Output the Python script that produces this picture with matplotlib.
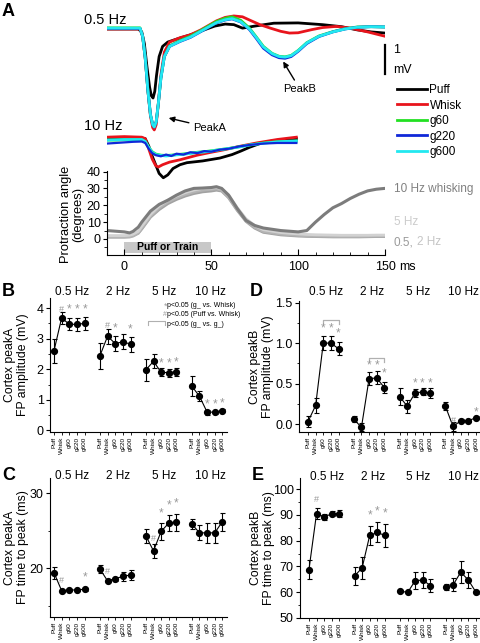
import matplotlib.pyplot as plt
import numpy as np
from matplotlib.patches import Rectangle
from matplotlib.ticker import MultipleLocator

plt.rcParams['font.family'] = ['Liberation Sans', 'DejaVu Sans']

W, H = 480, 643

# ---------------- data ----------------
conds = ['Puff', 'Whisk', 'g60', 'g220', 'g600']
freqs = ['0.5 Hz', '2 Hz', '5 Hz', '10 Hz']

# A: field potential traces (ms, mV)
t_blk05 = [-10, 0, 8, 10, 11.5, 13, 14.5, 15.5, 16.5, 17.5, 18.5, 20, 22, 25, 30, 38, 45, 52, 58, 63, 68,
           75, 86, 100, 114, 125, 134, 142, 150]
v_blk05 = [0, 0, 0, -0.1, -0.5, -1.3, -2.0, -2.3, -2.38, -2.15, -1.6, -0.95, -0.6, -0.45, -0.35, -0.2, -0.05,
           0.1, 0.17, 0.15, 0.03, 0.1, 0.2, 0.21, 0.15, 0.08, -0.03, -0.1, -0.14]
t_red05 = [-10, 0, 9, 10.5, 12, 13.5, 15, 16.3, 17.2, 18.3, 19.5, 21, 23, 26, 32, 38, 44, 53, 58, 63, 68, 72,
           78, 84, 90, 95, 100, 108, 114, 122, 130, 140, 150]
v_red05 = [0, 0, 0, -0.25, -1.0, -2.1, -3.0, -3.4, -3.48, -3.3, -2.6, -1.6, -0.8, -0.45, -0.3, -0.2, -0.03,
           0.28, 0.4, 0.45, 0.42, 0.31, 0.15, 0.03, -0.08, -0.14, -0.13, -0.02, 0.05, 0.09, 0.03, -0.1, -0.25]
t_g05 = [-10, 0, 9, 10.5, 12, 13.5, 15, 16.3, 17.2, 18.3, 19.5, 21, 23, 26, 32, 38, 44, 53, 58, 62, 67, 72,
         76, 80, 85, 89, 92.5, 96, 100, 105, 112, 120, 127, 134, 142, 150]
v_g60_05 = [0.04, 0.04, 0.04, -0.25, -1.0, -2.1, -2.95, -3.3, -3.36, -3.2, -2.6, -1.7, -0.95, -0.58, -0.4,
            -0.25, -0.05, 0.26, 0.37, 0.42, 0.3, 0.03, -0.28, -0.6, -0.84, -0.94, -0.96, -0.91, -0.74, -0.47,
            -0.24, -0.09, 0.01, 0.07, 0.08, 0.07]
v_g220_05 = [0.02, 0.02, 0.02, -0.25, -1.0, -2.1, -2.95, -3.3, -3.38, -3.2, -2.6, -1.7, -0.95, -0.6, -0.43,
             -0.29, -0.09, 0.21, 0.31, 0.35, 0.24, -0.02, -0.33, -0.66, -0.89, -0.99, -1.01, -0.95, -0.77,
             -0.5, -0.26, -0.1, 0.0, 0.06, 0.08, 0.07]
v_g600_05 = [0.03, 0.03, 0.03, -0.25, -1.0, -2.1, -2.95, -3.3, -3.38, -3.2, -2.6, -1.7, -0.95, -0.6, -0.42,
             -0.28, -0.08, 0.22, 0.32, 0.36, 0.25, 0.0, -0.3, -0.62, -0.85, -0.95, -0.97, -0.92, -0.75, -0.48,
             -0.25, -0.1, 0.0, 0.06, 0.08, 0.07]

t_blk10 = [-10, 0, 10, 12, 14, 16, 18, 20, 22.4, 25, 28, 32, 36, 45, 55, 62, 67, 72, 78, 85, 92, 99]
v_blk10 = [0.05, 0.07, 0.07, 0.05, -0.2, -0.55, -0.85, -1.15, -1.3, -1.2, -0.98, -0.85, -0.78, -0.72, -0.62,
           -0.5, -0.38, -0.25, -0.12, -0.03, 0.02, 0.05]
t_red10 = [-10, 0, 10, 12, 14, 16, 18, 19.5, 22, 26, 32, 42, 50, 57, 66, 76, 88, 99]
v_red10 = [0.1, 0.12, 0.1, 0.05, -0.3, -0.65, -0.88, -0.93, -0.85, -0.76, -0.68, -0.52, -0.42, -0.34, -0.22,
           -0.1, 0.02, 0.1]
t_g10 = [-10, -5, 0, 5, 10, 12, 14, 16, 18, 21, 24, 27, 30, 34, 38, 42, 46, 50, 55, 60, 66, 72, 80, 88, 99]
v_g60_10 = [0.0, 0.0, 0.01, 0.01, 0.01, -0.05, -0.25, -0.4, -0.48, -0.52, -0.53, -0.52, -0.5, -0.48, -0.45,
            -0.42, -0.4, -0.37, -0.33, -0.29, -0.23, -0.17, -0.1, -0.06, -0.03]
v_g220_10 = [-0.12, -0.1, -0.08, -0.06, -0.05, -0.1, -0.3, -0.45, -0.52, -0.56, -0.5, -0.55, -0.47, -0.5,
             -0.42, -0.45, -0.38, -0.4, -0.33, -0.3, -0.22, -0.17, -0.12, -0.1, -0.1]
v_g600_10 = [0.0, 0.01, 0.02, 0.02, 0.02, -0.05, -0.25, -0.42, -0.5, -0.53, -0.55, -0.53, -0.51, -0.49,
             -0.46, -0.43, -0.41, -0.38, -0.33, -0.29, -0.24, -0.17, -0.11, -0.06, -0.03]

# A: whisker protraction angle (degrees)
t_ang = [-10, 0, 3, 5, 8, 10, 15, 20, 25, 30, 35, 40, 45, 50, 53, 56, 60, 65, 70, 75, 80, 90, 100, 105, 110,
         115, 120, 125, 130, 135, 140, 145, 150]
ang_10 = [5, 4.2, 3.6, 4.5, 7, 10, 16.5, 20.5, 23, 26, 28.5, 30, 30.2, 30.5, 31, 30, 26, 18, 11, 8, 6.5, 5,
          4.2, 5, 10, 14.5, 18.5, 21, 24, 26.5, 28.5, 29.5, 30]
ang_05 = [1.5, 1.5, 1.6, 2, 3.5, 6, 13, 17.5, 21, 23.5, 25.5, 27, 28, 28.5, 29, 28.5, 24.5, 17, 10.5, 6.5, 4,
          2.5, 1.8, 1.6, 1.5, 1.4, 1.3, 1.3, 1.3, 1.3, 1.4, 1.5, 1.5]
ang_2 = [1.0, 1.0, 1.2, 1.8, 3.5, 6.5, 13.5, 18.5, 22, 24.5, 26.5, 28, 29, 29.5, 29.8, 29, 25, 17.5, 11, 7,
         4.5, 3.0, 2.2, 2.0, 1.8, 1.7, 1.6, 1.6, 1.6, 1.6, 1.7, 1.8, 1.8]
ang_5 = [2, 2, 2.2, 2.8, 4.5, 7.5, 14.5, 19.5, 23, 25.5, 27.5, 29, 30, 30.2, 30.5, 29.8, 26, 18.5, 12, 8, 5.5,
         3.8, 3.0, 2.7, 2.5, 2.4, 2.3, 2.2, 2.2, 2.2, 2.2, 2.3, 2.3]

# B: peakA amplitude (mV)
b_mean = [[2.6, 3.68, 3.47, 3.47, 3.5], [2.44, 3.08, 2.84, 2.9, 2.82],
          [1.98, 2.26, 1.9, 1.89, 1.92], [1.45, 1.12, 0.6, 0.6, 0.65]]
b_err = [[0.4, 0.2, 0.2, 0.22, 0.2], [0.42, 0.25, 0.25, 0.25, 0.25],
         [0.37, 0.23, 0.13, 0.13, 0.13], [0.32, 0.17, 0.08, 0.05, 0.05]]
b_sig = [(0, 1, '#', 3.97), (0, 2, '*', 3.97), (0, 3, '*', 3.97), (0, 4, '*', 3.97),
         (1, 1, '#', 3.42), (1, 2, '*', 3.33), (1, 4, '*', 3.3),
         (2, 2, '*', 2.2), (2, 3, '*', 2.2), (2, 4, '*', 2.22),
         (3, 2, '*', 0.85), (3, 3, '*', 0.85), (3, 4, '*', 0.88)]

# C: peakA time to peak (ms)
c_mean = [[19.4, 17.0, 17.1, 17.1, 17.2], [19.9, 18.3, 18.6, 18.9, 19.1],
          [24.3, 22.3, 24.9, 26.0, 26.1], [25.9, 24.7, 24.7, 24.7, 26.2]]
c_err = [[0.8, 0.15, 0.15, 0.15, 0.2], [0.5, 0.2, 0.25, 0.6, 0.7],
         [0.9, 0.9, 1.1, 1.1, 1.1], [0.7, 1.0, 1.3, 1.3, 1.2]]
c_sig = [(0, 1, '#', 18.3), (0, 4, '*', 18.8), (1, 1, '#', 19.6),
         (2, 1, '#', 23.9), (2, 2, '*', 27.3), (2, 3, '*', 28.4), (2, 4, '*', 28.6)]

# D: peakB amplitude (mV)
d_mean = [[0.03, 0.23, 1.0, 1.0, 0.93], [0.06, -0.04, 0.56, 0.57, 0.45],
          [0.34, 0.22, 0.38, 0.4, 0.38], [0.22, -0.03, 0.04, 0.04, 0.08]]
d_err = [[0.07, 0.09, 0.09, 0.09, 0.08], [0.04, 0.05, 0.08, 0.08, 0.07],
         [0.1, 0.08, 0.05, 0.04, 0.06], [0.05, 0.05, 0.02, 0.02, 0.02]]
d_sig = [(0, 2, '*', 1.18), (0, 3, '*', 1.18), (0, 4, '*', 1.12),
         (1, 2, '*', 0.72), (1, 3, '*', 0.72), (1, 4, '*', 0.63),
         (2, 2, '*', 0.5), (2, 3, '*', 0.5), (2, 4, '*', 0.5),
         (3, 1, '#', 0.05), (3, 4, '*', 0.14)]
d_brackets = [(0, 1.28), (1, 0.82)]

# E: peakB time to peak (ms)
e_mean = [[68.8, 90.5, 89.2, 90.4, 90.5], [66.3, 69.4, 82.0, 83.2, 82.0],
          [60.5, 59.9, 64.5, 64.7, 62.6], [62.0, 62.9, 67.8, 64.7, 60.0]]
e_err = [[3.6, 2.0, 1.0, 1.0, 1.2], [3.4, 4.2, 3.8, 3.9, 4.3],
         [0.5, 0.3, 3.2, 3.2, 2.7], [1.2, 2.5, 4.2, 3.2, 0.5]]
e_sig = [(0, 1, '#', 96.0), (1, 2, '*', 89.6), (1, 3, '*', 91.2), (1, 4, '*', 90.6)]

# ---------------- figure ----------------
fig = plt.figure(figsize=(W / 100, H / 100), dpi=100)


def box(l, t, r, b):
    return [l / W, 1 - b / H, (r - l) / W, (b - t) / H]


GRAY = '#9a9a9a'
tr_cols = {'Puff': 'black', 'Whisk': '#e8141c', 'g60': '#22e022', 'g220': '#1028d8', 'g600': '#22e8f0'}

# --- A: protraction angle ---
ax_ang = fig.add_axes(box(107, 171, 385, 255))
ax_ang.plot(t_ang, ang_05, color='#a2a2a2', lw=2.2)
ax_ang.plot(t_ang, ang_2, color='#b4b4b4', lw=2.2)
ax_ang.plot(t_ang, ang_5, color='#d2d2d2', lw=2.0)
ax_ang.plot(t_ang, ang_10, color='#7c7c7c', lw=2.2)
ax_ang.add_patch(Rectangle((0, -8.2), 50, 6.4, fc='#c8c8c8', ec='none'))
ax_ang.text(25, -5.0, 'Puff or Train', ha='center', va='center', fontsize=7.5, fontweight='bold')
ax_ang.set_xlim(-10, 150)
ax_ang.set_ylim(-9.5, 40.3)
ax_ang.set_xticks([0, 50, 100, 150])
ax_ang.xaxis.set_minor_locator(MultipleLocator(10))
ax_ang.set_yticks([0, 10, 20, 30, 40])
ax_ang.yaxis.set_minor_locator(MultipleLocator(5))
ax_ang.tick_params(axis='x', which='both', direction='in', labelsize=9, pad=4)
ax_ang.tick_params(axis='x', which='major', length=4)
ax_ang.tick_params(axis='x', which='minor', length=2.5)
ax_ang.tick_params(axis='y', which='both', direction='out', labelsize=9, pad=1.5)
ax_ang.tick_params(axis='y', which='major', length=3)
ax_ang.tick_params(axis='y', which='minor', length=2)
for s in ['top', 'right']:
    ax_ang.spines[s].set_visible(False)
ax_ang.set_ylabel('Protraction angle\n(degrees)', fontsize=9.3, linespacing=1.0)
ax_ang.yaxis.set_label_coords(-0.083, 0.48)
ax_ang.patch.set_alpha(0)
ax_ang.text(155, 29.4, '10 Hz whisking', color='#808080', fontsize=8.5, va='center', clip_on=False)
ax_ang.text(155, 10, '5 Hz', color='#cccccc', fontsize=8.5, va='center', clip_on=False)
ax_ang.text(155, -1.8, '0.5,', color='#9a9a9a', fontsize=8.5, va='center', clip_on=False)
ax_ang.text(168.5, -1.8, '2 Hz', color='#c4c4c4', fontsize=8.5, va='center', clip_on=False)
fig.text(399 / W, 1 - 267 / H, 'ms', fontsize=9, va='center')

# --- A: traces ---
ax_tr = fig.add_axes(box(107, 5, 385, 200), zorder=5)
ax_tr.patch.set_alpha(0)
ax_tr.set_xlim(-10, 150)
ax_tr.set_ylim(-(200 - 29) / 29, (29 - 5) / 29)
ax_tr.axis('off')
off10 = -3.83
lw_tr = 2.0
lines = {}
lines['Puff'], = ax_tr.plot(t_blk05, v_blk05, color=tr_cols['Puff'], lw=lw_tr)
ax_tr.plot(t_blk10, np.array(v_blk10) + off10, color=tr_cols['Puff'], lw=lw_tr)
lines['Whisk'], = ax_tr.plot(t_red05, v_red05, color=tr_cols['Whisk'], lw=lw_tr)
ax_tr.plot(t_red10, np.array(v_red10) + off10, color=tr_cols['Whisk'], lw=lw_tr)
lines['g60'], = ax_tr.plot(t_g05, v_g60_05, color=tr_cols['g60'], lw=lw_tr)
ax_tr.plot(t_g10, np.array(v_g60_10) + off10, color=tr_cols['g60'], lw=lw_tr)
lines['g220'], = ax_tr.plot(t_g05, v_g220_05, color=tr_cols['g220'], lw=lw_tr)
lines['g600'], = ax_tr.plot(t_g05, v_g600_05, color=tr_cols['g600'], lw=lw_tr)
ax_tr.plot(t_g10, np.array(v_g600_10) + off10, color=tr_cols['g600'], lw=lw_tr)
ax_tr.plot(t_g10, np.array(v_g220_10) + off10, color=tr_cols['g220'], lw=1.6)

ax_tr.text(-23, 0.31, '0.5 Hz', fontsize=10.5, va='center', ha='left')
ax_tr.text(-23, -3.34, '10 Hz', fontsize=10.5, va='center', ha='left')
ax_tr.annotate('PeakA', xy=(25.5, -3.07), xytext=(39.5, -3.4), fontsize=8, va='center', ha='left',
               arrowprops=dict(arrowstyle='-|>', color='k', lw=1.0, mutation_scale=8, shrinkA=1, shrinkB=0))
ax_tr.annotate('PeakB', xy=(91.4, -1.12), xytext=(101, -2.07), fontsize=8, va='center', ha='center',
               arrowprops=dict(arrowstyle='-|>', color='k', lw=1.0, mutation_scale=8, shrinkA=1, shrinkB=0))
ax_tr.plot([150, 150], [-0.55, -1.55], color='k', lw=1.6, clip_on=False)
ax_tr.text(154.5, -0.72, '1', fontsize=9, va='center')
ax_tr.text(154.5, -1.41, 'mV', fontsize=9, va='center')

fig.legend([lines[c] for c in conds], conds, loc='upper left', bbox_to_anchor=(397 / W, 1 - 84 / H),
           frameon=False, fontsize=8.5, handlelength=2.5, handletextpad=0.25, labelspacing=0.3,
           borderpad=0, borderaxespad=0)

# --- B-E: group statistics ---
xpos = np.array([g * 6 + np.arange(5) for g in range(4)])


def stat_panel(rect, mean, err, sig, ylim, xlim, yticks, minor, ylabel, head_y, label_x):
    ax = fig.add_axes(rect)
    for g in range(4):
        ax.errorbar(xpos[g], mean[g], yerr=err[g], color='k', lw=0.8, marker='o', ms=4.2,
                    capsize=1.8, elinewidth=0.8, capthick=0.8, clip_on=False)
    for g, c, sym, y in sig:
        ax.text(xpos[g][c], y, sym, color=GRAY, ha='center', va='center',
                fontsize=8.5 if sym == '*' else 6.5)
    ax.set_xlim(*xlim)
    ax.set_ylim(*ylim)
    ax.set_xticks(xpos.ravel())
    ax.set_xticklabels(conds * 4, rotation=90, fontsize=4.6)
    ax.set_yticks(yticks)
    ax.yaxis.set_minor_locator(MultipleLocator(minor))
    ax.tick_params(axis='x', direction='out', length=2.5, width=0.6, pad=1)
    ax.tick_params(axis='y', which='major', direction='out', length=3, labelsize=9, pad=1.5)
    ax.tick_params(axis='y', which='minor', direction='out', length=1.8)
    for s in ['top', 'right']:
        ax.spines[s].set_visible(False)
    ax.set_ylabel(ylabel, fontsize=8.8, linespacing=1.1)
    ax.yaxis.set_label_coords(label_x, 0.5)
    for g in range(4):
        ax.text(xpos[g].mean() + 0.4, head_y, freqs[g], transform=ax.get_xaxis_transform(),
                ha='center', va='center', fontsize=8.5)
    ax.patch.set_alpha(0)
    return ax


xlim_l = (-0.52, 22.6)
xlim_r = (-1.18, 22.4)

ax_b = stat_panel(box(50, 298, 227, 432), b_mean, b_err, b_sig, (-0.05, 4.33), xlim_l,
                  [0, 1, 2, 3, 4], 0.5, 'Cortex peakA\nFP amplitude (mV)', 1.045, -0.12)
# significance key
ax_b.text(14.75, 4.07, '*', color=GRAY, ha='right', va='center', fontsize=6.5)
ax_b.text(14.8, 4.07, 'p<0.05 (g_ vs. Whisk)', ha='left', va='center', fontsize=5)
ax_b.text(14.75, 3.78, '#', color=GRAY, ha='right', va='center', fontsize=5)
ax_b.text(14.8, 3.78, 'p<0.05 (Puff vs. Whisk)', ha='left', va='center', fontsize=5)
ax_b.plot([12.3, 12.3, 14.5, 14.5], [3.45, 3.58, 3.58, 3.45], color='#b0b0b0', lw=0.8)
ax_b.text(14.8, 3.48, 'p<0.05 (g_ vs. g_)', ha='left', va='center', fontsize=5)

ax_c = stat_panel(box(50, 478, 227, 617), c_mean, c_err, c_sig, (13.5, 32.0), xlim_l,
                  [20, 30], 5, 'Cortex peakA\nFP time to peak (ms)', 1.015, -0.12)

ax_d = stat_panel(box(299, 301, 479, 432), d_mean, d_err, d_sig, (-0.098, 1.52), xlim_r,
                  [0.0, 0.5, 1.0, 1.5], 0.25, 'Cortex peakB\nFP amplitude (mV)', 1.07, -0.14)
ax_d.set_yticklabels(['0.0', '0.5', '1.0', '1.5'])
for g, y in d_brackets:
    ax_d.plot([xpos[g][2], xpos[g][2], xpos[g][4], xpos[g][4]], [y - 0.05, y, y, y - 0.05],
              color='#b0b0b0', lw=0.9)

ax_e = stat_panel(box(300, 478, 479, 618), e_mean, e_err, e_sig, (50, 104.3), xlim_r,
                  [50, 60, 70, 80, 90, 100], 5, 'Cortex peakB\nFP time to peak (ms)', 1.005, -0.14)

# panel letters
for lab, x, y in [('A', 2, 12), ('B', 2, 291), ('C', 2, 476), ('D', 250, 291), ('E', 252, 476)]:
    fig.text(x / W, 1 - y / H, lab, fontsize=13, fontweight='bold', va='center', ha='left')

fig.savefig('out.png', dpi=100)
